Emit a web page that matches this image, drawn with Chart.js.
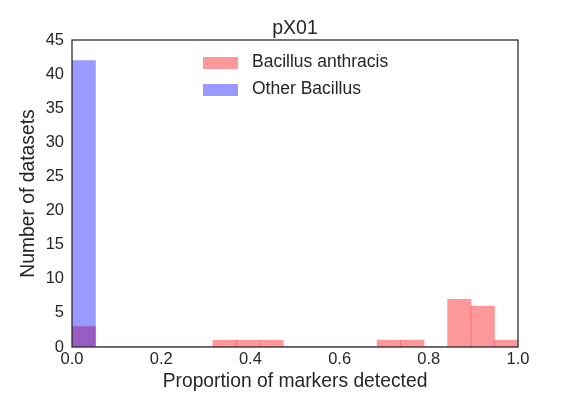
<!DOCTYPE html>
<html>
<head>
<meta charset="utf-8">
<script src="https://cdn.jsdelivr.net/npm/chart.js@4/dist/chart.umd.min.js"></script>
<style>
  html, body { margin: 0; padding: 0; background: #ffffff; }
  #wrap { width: 576px; height: 396px; }
</style>
</head>
<body>
<div id="wrap"><canvas id="c" width="576" height="396"></canvas></div>
<script>
// 19 equal-width bins spanning 0..1
const binCount = 19;
const binEdgesLow = [0, 1, 2, 3, 4, 5, 6, 7, 8, 9, 10, 11, 12, 13, 14, 15, 16, 17, 18].map(i => i / binCount);
const anthracisCounts = [3, 0, 0, 0, 0, 0, 1, 1, 1, 0, 0, 0, 0, 1, 1, 0, 7, 6, 1];
const otherCounts     = [42, 0, 0, 0, 0, 0, 0, 0, 0, 0, 0, 0, 0, 0, 0, 0, 0, 0, 0];
const seriesLabels = ['Bacillus anthracis', 'Other Bacillus'];
const xTicks = [0, 0.2, 0.4, 0.6, 0.8, 1.0];
const yTicks = [0, 5, 10, 15, 20, 25, 30, 35, 40, 45];
const chartTitle = 'pX01';
const xTitle = 'Proportion of markers detected';
const yTitle = 'Number of datasets';

const TEXT = '#262626';
const FONT = "'Liberation Sans', Arial, sans-serif";

function toPoints(counts) {
  return counts.map((v, i) => ({ x: binEdgesLow[i] + 0.5 / binCount, y: v }));
}

const innerLegend = {
  id: 'innerLegend',
  afterDraw(chart) {
    const ctx = chart.ctx;
    const x0 = 203, y0 = 57, gap = 27;
    ctx.save();
    ctx.font = '17.5px ' + FONT;
    ctx.textBaseline = 'middle';
    ctx.textAlign = 'left';
    chart.data.datasets.forEach((ds, i) => {
      const y = y0 + i * gap;
      ctx.fillStyle = ds.backgroundColor;
      ctx.fillRect(x0, y, 35, 12);
      ctx.fillStyle = TEXT;
      ctx.fillText(ds.label, x0 + 49, y + 5.5);
    });
    ctx.restore();
  }
};

const frame = {
  id: 'frame',
  afterDraw(chart) {
    const a = chart.chartArea;
    const ctx = chart.ctx;
    ctx.save();
    ctx.strokeStyle = TEXT;
    ctx.lineWidth = 1.25;
    ctx.strokeRect(a.left, a.top, a.right - a.left, a.bottom - a.top);
    ctx.restore();
  }
};

new Chart(document.getElementById('c'), {
  type: 'bar',
  data: {
    datasets: [
      {
        label: seriesLabels[0],
        data: toPoints(anthracisCounts),
        backgroundColor: 'rgba(255,0,0,0.4)',
        borderWidth: 0,
        order: 2
      },
      {
        label: seriesLabels[1],
        data: toPoints(otherCounts),
        backgroundColor: 'rgba(0,0,255,0.4)',
        borderWidth: 0,
        order: 1
      }
    ]
  },
  options: {
    responsive: false,
    animation: false,
    events: [],
    grouped: false,
    barPercentage: 1,
    categoryPercentage: 1,
    layout: { padding: { top: 0, right: 58, bottom: 0, left: 0 } },
    plugins: {
      legend: { display: false },
      tooltip: { enabled: false },
      title: {
        display: true,
        fullSize: false,
        text: chartTitle,
        color: TEXT,
        font: { family: FONT, size: 19.5, weight: 'normal', lineHeight: 1 },
        padding: { top: 19.25, bottom: 1.25 }
      }
    },
    scales: {
      x: {
        type: 'linear',
        min: 0,
        max: 1,
        offset: false,
        grid: { display: false, drawTicks: false },
        border: { display: false },
        afterBuildTicks(scale) { scale.ticks = xTicks.map(v => ({ value: v })); },
        afterFit(scale) { scale.height = 49; },
        ticks: {
          color: TEXT,
          font: { family: FONT, size: 16.5 },
          padding: 3,
          maxRotation: 0,
          callback: v => Number(v).toFixed(1)
        },
        title: {
          display: true,
          text: xTitle,
          color: TEXT,
          font: { family: FONT, size: 19.3 },
          padding: { top: 0, bottom: 2.5 }
        }
      },
      y: {
        min: 0,
        max: 45,
        grid: { display: false, drawTicks: false },
        border: { display: false },
        afterBuildTicks(scale) { scale.ticks = yTicks.map(v => ({ value: v })); },
        afterFit(scale) { scale.width = 72; },
        ticks: {
          color: TEXT,
          font: { family: FONT, size: 16.5 },
          padding: 8
        },
        title: {
          display: true,
          text: yTitle,
          color: TEXT,
          font: { family: FONT, size: 19.3 },
          padding: { top: 17.5, bottom: 0 }
        }
      }
    }
  },
  plugins: [innerLegend, frame]
});
</script>
</body>
</html>
